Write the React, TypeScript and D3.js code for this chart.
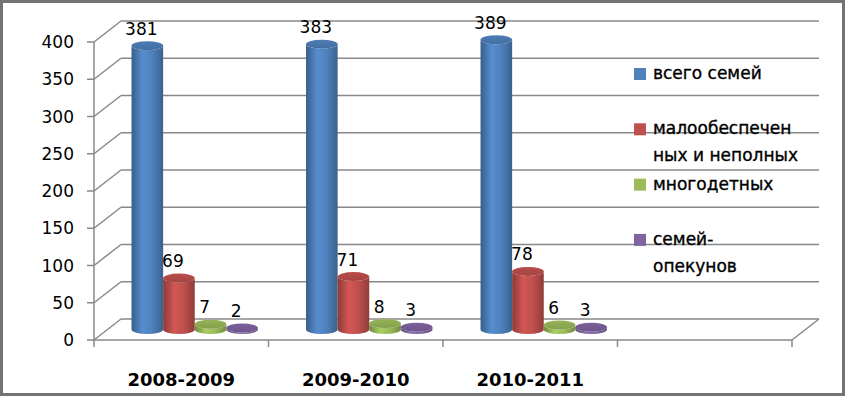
import React from "react";
import * as d3 from "d3";

const categories = ["2008-2009", "2009-2010", "2010-2011", ""];
const seriesNames = ["всего семей", "малообеспеченных и неполных", "многодетных", "семей-опекунов"];
const legendLines = [["всего семей"], ["малообеспечен", "ных и неполных"], ["многодетных"], ["семей-", "опекунов"]];
const seriesColors = ["#4F81BD", "#C0504D", "#9BBB59", "#8064A2"];

const totalFamilies = [381, 383, 389];
const lowIncome = [69, 71, 78];
const largeFamilies = [7, 8, 6];
const guardianFamilies = [2, 3, 3];
const seriesValues = [totalFamilies, lowIncome, largeFamilies, guardianFamilies];

const yTicks = [0, 50, 100, 150, 200, 250, 300, 350, 400];

const W = 845;
const H = 396;
const DX = 27;
const DY = -21;
const FONT = "'DejaVu Sans', sans-serif";

export default function App() {
    const yScale = d3.scaleLinear().domain([0, 400]).range([340, 42]);
    const xScale = d3.scaleBand<string>().domain(categories).range([94, 792]).padding(0);
    const inner = d3
        .scaleBand<string>()
        .domain(seriesNames)
        .range([0, xScale.bandwidth()])
        .paddingInner(0)
        .paddingOuter(0.76);

    const rx = inner.bandwidth() / 2;
    const ry = 4.5;
    const x0 = xScale.range()[0];
    const x1 = xScale.range()[1];
    const yBase = yScale(0);

    const cylinders: JSX.Element[] = [];
    const labels: JSX.Element[] = [];
    seriesValues.forEach((vals, si) => {
        vals.forEach((v, ci) => {
            const cx = (xScale(categories[ci]) ?? 0) + (inner(seriesNames[si]) ?? 0) + rx + DX / 2;
            const yb = yScale(0) + DY / 2;
            const yt = yScale(v) + DY / 2;
            const side = `M${cx - rx},${yt} L${cx - rx},${yb} A${rx},${ry} 0 0 0 ${cx + rx},${yb} L${cx + rx},${yt} A${rx},${ry} 0 0 1 ${cx - rx},${yt} Z`;
            cylinders.push(
                <g key={`c${si}-${ci}`}>
                    <path d={side} fill={`url(#side${si})`} />
                    <ellipse cx={cx} cy={yt} rx={rx} ry={ry} fill={`url(#top${si})`} />
                </g>
            );
            labels.push(
                <text key={`l${si}-${ci}`} x={cx - 6} y={yt - 11} textAnchor="middle" fontSize={17} fontFamily={FONT} fill="#000">
                    {v}
                </text>
            );
        });
    });

    return (
        <svg width={W} height={H} style={{ position: "absolute", left: 0, top: 0 }}>
            <defs>
                {seriesColors.map((c, i) => {
                    const base = d3.color(c)!;
                    return (
                        <React.Fragment key={i}>
                            <linearGradient id={`side${i}`} x1="0" x2="1" y1="0" y2="0">
                                <stop offset="0%" stopColor={base.darker(0.9).toString()} />
                                <stop offset="35%" stopColor={base.brighter(0.25).toString()} />
                                <stop offset="65%" stopColor={base.toString()} />
                                <stop offset="100%" stopColor={base.darker(0.8).toString()} />
                            </linearGradient>
                            <linearGradient id={`top${i}`} x1="0" x2="0" y1="0" y2="1">
                                <stop offset="0%" stopColor={base.darker(0.1).toString()} />
                                <stop offset="100%" stopColor={base.darker(0.45).toString()} />
                            </linearGradient>
                        </React.Fragment>
                    );
                })}
            </defs>
            <rect x={1.5} y={1.5} width={W - 3} height={H - 3} fill="#fff" stroke="#737373" strokeWidth={3} />

            {/* back wall gridlines and left wall diagonals */}
            {yTicks.map((t) => (
                <g key={t} stroke="#888" strokeWidth={1.5} fill="none">
                    <line x1={x0 + DX} x2={x1 + DX} y1={yScale(t) + DY} y2={yScale(t) + DY} />
                    <line x1={x0} x2={x0 + DX} y1={yScale(t)} y2={yScale(t) + DY} />
                    <line x1={x0 - 7} x2={x0} y1={yScale(t)} y2={yScale(t)} />
                </g>
            ))}
            {/* floor */}
            <g stroke="#888" strokeWidth={1.5} fill="none">
                <line x1={x1} x2={x1 + DX} y1={yBase} y2={yBase + DY} />
                <line x1={x0} x2={x1} y1={yBase} y2={yBase} />
                <line x1={x0} x2={x0} y1={yScale(400)} y2={yBase + 7} />
                {categories.map((c) => (
                    <line key={c} x1={(xScale(c) ?? 0) + xScale.bandwidth()} x2={(xScale(c) ?? 0) + xScale.bandwidth()} y1={yBase} y2={yBase + 7} />
                ))}
            </g>

            {yTicks.map((t) => (
                <text key={t} x={74} y={yScale(t)} dy="0.36em" textAnchor="end" fontSize={17} fontFamily={FONT} fill="#000">
                    {t}
                </text>
            ))}

            {cylinders}
            {labels}

            {categories.map((c) => (
                <text key={c} x={(xScale(c) ?? 0) + xScale.bandwidth() / 2} y={386} textAnchor="middle" fontSize={18} fontWeight="bold" fontFamily={FONT} fill="#000">
                    {c}
                </text>
            ))}

            {legendLines.map((lines, i) => {
                const by = 79 + i * 55.3;
                return (
                    <g key={i}>
                        <rect x={634} y={by - 11} width={12} height={12} fill={seriesColors[i]} />
                        {lines.map((ln, j) => (
                            <text key={j} x={653} y={by + j * 27} fontSize={17} fontFamily={FONT} fill="#000" stroke="#000" strokeWidth={0.35}>
                                {ln}
                            </text>
                        ))}
                    </g>
                );
            })}
        </svg>
    );
}
